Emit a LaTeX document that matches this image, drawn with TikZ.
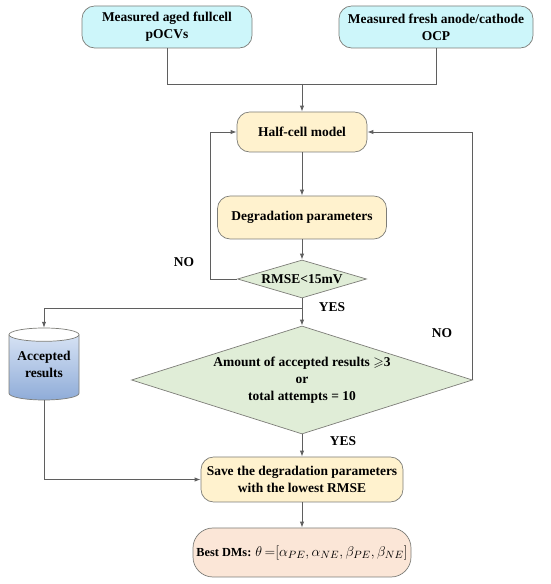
\documentclass[tikz,border=0pt]{standalone}
\usepackage{amsmath}
\usepackage{amssymb}
\usepackage{fontspec}
\setmainfont{Liberation Serif}
\usepackage{tikz}
\usetikzlibrary{arrows.meta, positioning, shapes.geometric}

\definecolor{incyan}{RGB}{205,246,250}
\definecolor{stepyellow}{RGB}{255,242,206}
\definecolor{decgreen}{RGB}{224,237,215}
\definecolor{outpeach}{RGB}{251,230,215}
\definecolor{cylhi}{RGB}{214,226,244}
\definecolor{cyllo}{RGB}{143,172,216}
\definecolor{bordergray}{RGB}{125,125,120}
\definecolor{linegray}{RGB}{95,95,95}

\begin{document}
\begin{tikzpicture}[
			every node/.style={
				font=\bfseries\fontsize{11.5}{14.5}\selectfont,
				align=center
			},
			box/.style={draw=bordergray, line width=0.6pt, rectangle, rounded corners=0.38cm, inner sep=2pt},
			inbox/.style={box, fill=incyan, minimum height=1.26cm},
			stepbox/.style={box, fill=stepyellow},
			decision/.style={draw=bordergray, line width=0.6pt, diamond, fill=decgreen, inner sep=0pt},
			arrow/.style={-{Latex[length=1.8mm, width=1.3mm]}, line width=0.7pt, color=linegray},
			line/.style={line width=0.7pt, color=linegray},
			lbl/.style={draw=none, fill=none}
			]
			\useasboundingbox (0,0) rectangle (16.5,17.52);
			
			% -------- Inputs --------
			\node[inbox, minimum width=5.1cm] (fullcell) at (5.01,16.71) {Measured aged fullcell\\pOCVs};
			\node[inbox, minimum width=5.82cm] (halfocp) at (13.08,16.71) {Measured fresh anode/cathode\\OCP};
			\coordinate (join) at (9.06,15.0);
			
			\draw[line] (fullcell) |- (join);
			\draw[line] (halfocp) |- (join);
			
			% -------- Fitting loop --------
			\node[stepbox, minimum width=3.9cm, minimum height=1.2cm] (half) at (9.06,13.56) {Half-cell model};
			\node[stepbox, minimum width=5.07cm, minimum height=1.29cm] (degr) at (9.06,10.995) {Degradation parameters};
			\node[decision, aspect=3.4, minimum width=3.87cm, minimum height=1.14cm] (rmse) at (9.06,9.15) {RMSE<15mV};
			
			\draw[arrow] (join) -- (half);
			\draw[arrow] (half) -- (degr);
			\draw[arrow] (degr) -- (rmse);
			
			\coordinate (loopl) at (6.3,9.15);
			\draw[arrow] (rmse.west) -- (loopl) |- (half.west);
			\node[lbl] at (5.52,9.66) {NO};
			
			% -------- Accepted results --------
			\shade[top color=cylhi, bottom color=cyllo] (0.27,7.48) -- (0.27,5.72)
				arc[start angle=180, end angle=360, x radius=1.05, y radius=0.2] -- (2.37,7.48) -- cycle;
			\draw[draw=bordergray, line width=0.6pt] (0.27,7.48) -- (0.27,5.72)
				arc[start angle=180, end angle=360, x radius=1.05, y radius=0.2] -- (2.37,7.48);
			\draw[draw=bordergray, line width=0.6pt, fill=white] (1.32,7.48) ellipse[x radius=1.05, y radius=0.2];
			\node[minimum width=2.1cm, minimum height=2.16cm, inner sep=0pt] (acc) at (1.32,6.6) {Accepted\\results};
			
			\coordinate (split) at (9.06,8.28);
			\node[decision, aspect=3.15, minimum width=10.23cm, minimum height=3.24cm] (cond) at (9.06,6.12)
				{Amount of accepted results $\geqslant$3\\or\\total attempts = 10};
			
			\draw[line] (rmse) -- (split);
			\draw[arrow] (split) -| (acc.north);
			\draw[arrow] (split) -- (cond);
			\node[lbl] at (9.96,8.31) {YES};
			
			\draw[arrow] (cond.east) |- (half.east);
			\node[lbl] at (13.26,7.53) {NO};
			
			% -------- Output --------
			\node[stepbox, minimum width=6.06cm, minimum height=1.35cm] (save) at (9.06,3.135)
				{Save the degradation parameters\\with the lowest RMSE};
			\node[box, fill=outpeach, rounded corners=0.6cm, minimum width=6.54cm, minimum height=1.47cm,
				font=\bfseries\fontsize{10.5}{13}\selectfont] (best) at (9.06,0.945)
				{Best DMs: {\fontsize{12.5}{15}\selectfont$\theta\,{=}[\alpha_{PE},\alpha_{NE},\beta_{PE},\beta_{NE}]$}};
			
			\draw[arrow] (cond) -- (save);
			\node[lbl] at (10.29,4.29) {YES};
			\draw[arrow] (acc.south) |- (save.west);
			\draw[arrow] (save) -- (best);
			
	\end{tikzpicture}
\end{document}
